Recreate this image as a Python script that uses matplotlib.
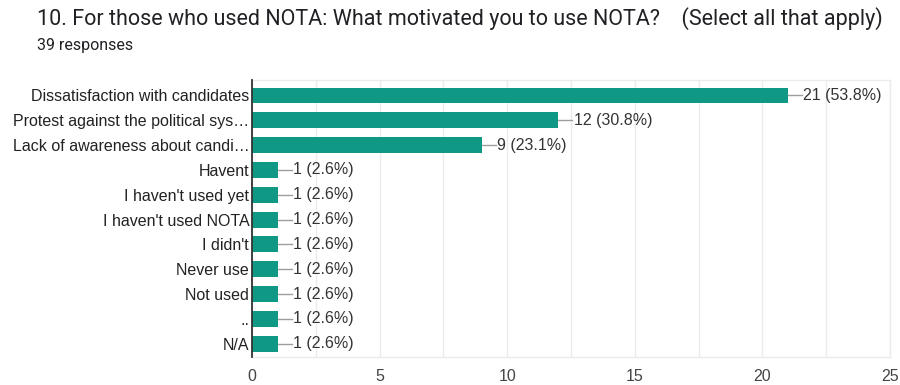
import matplotlib.pyplot as plt
from matplotlib.ticker import MultipleLocator

# survey answers, top to bottom
answers = ["Dissatisfaction with candidates", "Protest against the political sys\u2026",
           "Lack of awareness about candi\u2026", "Havent", "I haven't used yet",
           "I haven't used NOTA", "I didn't", "Never use", "Not used", "..", "N/A"]
counts = [21, 12, 9, 1, 1, 1, 1, 1, 1, 1, 1]
total = 39

teal = '#0f9985'

fig = plt.figure(figsize=(9, 3.85), dpi=100)
ax = fig.add_axes([0.28, 0.073, 0.709, 0.719])

ypos = list(range(len(answers)))
ax.barh(ypos, counts, height=0.64, color=teal, zorder=3)

# value labels with a short leader line
for y, c in zip(ypos, counts):
    ax.plot([c, c + 0.55], [y, y], color='#9e9e9e', lw=1, zorder=3)
    ax.text(c + 0.6, y, f"{c} ({c / total * 100:.1f}%)", va='center', ha='left',
            fontsize=11.5, color='#333333', family='Liberation Sans')

ax.set_xlim(0, 25)
ax.set_ylim(10.53, -0.62)
ax.set_yticks(ypos)
ax.set_yticklabels(answers, fontsize=11.5, color='#222222', family='Liberation Sans')
ax.xaxis.set_major_locator(MultipleLocator(5))
ax.xaxis.set_minor_locator(MultipleLocator(2.5))
ax.grid(axis='x', which='both', color='#ebebeb', lw=1, zorder=0)
ax.tick_params(axis='both', which='both', length=0)
ax.tick_params(axis='x', labelsize=11.5, labelcolor='#444444', pad=9)
ax.tick_params(axis='y', pad=2)
for lab in ax.get_xticklabels():
    lab.set_family('Liberation Sans')

for side in ['top', 'right', 'bottom']:
    ax.spines[side].set_color('#ebebeb')
    ax.spines[side].set_linewidth(1)
ax.spines['left'].set_color('#333333')
ax.spines['left'].set_linewidth(1.3)
ax.spines['left'].set_zorder(4)

fig.text(0.041, 0.953, "10. For those who used NOTA: What motivated you to use NOTA?    (Select all that apply)",
         fontsize=15.5, color='#202124', family='Roboto', va='center')
fig.text(0.041, 0.883, "39 responses", fontsize=11.5, color='#202124', family='Roboto', va='center')

fig.savefig('out.png', dpi=100)
